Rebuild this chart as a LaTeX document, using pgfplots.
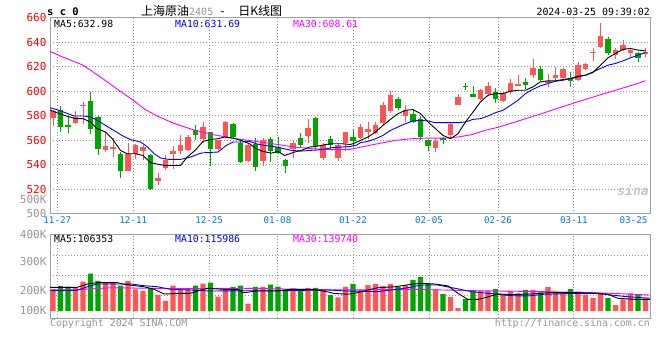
\documentclass[border=0pt]{standalone}
\usepackage{pgfplots}
\pgfplotsset{compat=1.18}
\usepackage{pgfplotstable}
\usepackage{fontspec}
\setmainfont{DejaVu Sans Mono}
\newfontfamily\cjk{Noto Sans CJK SC}
\definecolor{cred}{RGB}{255,85,85}
\definecolor{cgreen}{RGB}{0,166,0}
\definecolor{gridc}{RGB}{150,150,150}
\definecolor{framec}{RGB}{160,160,160}
\definecolor{datec}{RGB}{0,120,210}
\definecolor{greytxt}{RGB}{150,150,150}
\definecolor{mablue}{RGB}{0,0,255}
\definecolor{mamag}{RGB}{255,0,255}

% up (red) candles: index, open, high, low, close, volume (K)
\pgfplotstableread{
i o h l c v
-1 578 585 572 584 167
2 574 584 573.5 579 179
3 588 591 573 589 226
6 552 567 550 555 218
7 553.5 562 546 554 218
9 535 558 534.5 549 233
10 549 557 545 556 167
11 551 556 543.5 554.5 156
13 526.5 533.5 523.5 529.5 123
14 537 547.5 536 543.5 79
15 549 555 536.5 551.5 195
16 551.5 564.5 549 555.7 177
17 552 564 551.5 563 167
19 561 575 558 571 210
21 552.5 560.5 552 559.8 110
22 563 576 562 575 175
25 543 557 542.5 556 56
27 543 562 539 560 185
31 552.5 559 545.5 558 175
33 563.5 577 558 570 179
35 545.5 558 543.5 556 167
37 545.5 557 543 556 105
38 558 567 551 566.5 186
40 562 573 561 571 162
41 567 575 561 569.5 200
42 566 575 565 572 208
43 574 591 572 588.5 193
44 584 600 582 597 208
46 580 588.5 575 584.5 200
50 553.5 561 550 559.5 167
52 564 574 561.5 573 108
53 589 597.5 589 595.5 23
56 593.5 602 593 601 156
57 597.5 607.5 596.5 604 156
59 592 599 591.5 598.5 126
60 599 610 598 606.5 154
61 604.5 613.5 604 605.7 136
63 613.5 626 611 619 162
65 607 614 603.5 608.5 185
66 610.5 620 609 613 144
67 610.5 619 610 618 144
69 609 623.5 608 621.3 149
70 618 623 617.5 622 126
71 631.5 635 625 632 102
72 636 656 635.5 645 136
74 630 635.5 626 633.5 46
75 633.5 642 632.5 638 90
76 631.5 635 628 633.5 136
78 631 635.5 628 632 98
}\up

% down (green) candles
\pgfplotstableread{
i o h l c v
0 585 588 567 571 193
1 572.5 580 566 571.5 187
4 592 599.5 565 569.5 287
5 579 580 548 553 233
8 549 550 529 535 195
12 547.5 549 519.5 520 175
18 568 572 560 564 195
20 566.5 567 539 553 218
23 573 574 561 562.6 185
24 558 561 541 542 195
26 557 562 534.5 538 185
28 561 563 542.5 551.5 203
29 554.5 562.5 549 549.7 187
30 544 545 533.5 539 167
32 562 566 553.5 556 167
34 578 579 552.5 555 179
36 561 563.5 553 556 123
39 562.5 569 554.5 559 208
45 594 595.5 585 586 187
47 581 585 574 575 239
48 577 580 560 562.5 262
49 560 561 551.5 555 213
51 561.5 563 557 561 131
54 604.5 607 601 604 92
55 598 604 595 595.5 154
58 599.5 603 590.5 593.5 169
62 607.5 611 602 605 162
64 618 621 608.5 609 144
68 611 616 603.5 608 169
73 643 644 630 631.5 100
77 631.5 632 623.5 627.5 123
}\down

\begin{document}
\begin{tikzpicture}
\path[use as bounding box] (0pt,0pt) rectangle (660pt,-360pt);

% ---------------- price panel ----------------
\begin{axis}[
  at={(50pt,-17.8pt)}, anchor=north west,
  scale only axis, width=600pt, height=195.8pt,
  xmin=-1.4, xmax=78.6, ymin=500, ymax=660,
  axis line style={framec, line width=1pt},
  major tick length=0pt,
  xtick={-0.43,9.7,19.82,28.93,39.0,49.13,58.33,68.45},
  xticklabels={11-27,12-11,12-25,01-08,01-22,02-05,02-26,03-11},
  extra x ticks={76.4}, extra x tick labels={03-25},
  extra x tick style={grid=none},
  xticklabel style={text=datec, font=\fontsize{9.2}{10}\selectfont},
  ytick={520,540,560,580,600,620,640,660},
  yticklabels={520,540,560,580,600,620,640,660},
  yticklabel style={text=red, font=\fontsize{11}{11}\selectfont},
  extra y ticks={500,511.5}, extra y tick labels={500,500K},
  extra y tick style={grid=none, yticklabel style={text=greytxt}},
  grid=major,
  major grid style={gridc, dash pattern=on 1pt off 2pt, line width=0.8pt},
  candle/.style={draw=none, mark=none, forget plot, error bars/.cd, y dir=both, y explicit, error mark=none},
]
% wicks
\addplot[candle, error bar style={draw=cred, line width=1pt}]
  table[x=i, y expr={(\thisrow{h}+\thisrow{l})/2}, y error expr={(\thisrow{h}-\thisrow{l})/2}] {\up};
\addplot[candle, error bar style={draw=cgreen, line width=1pt}]
  table[x=i, y expr={(\thisrow{h}+\thisrow{l})/2}, y error expr={(\thisrow{h}-\thisrow{l})/2}] {\down};
% bodies
\addplot[candle, error bar style={draw=cred, line width=5.8pt}]
  table[x=i, y expr={(\thisrow{o}+\thisrow{c})/2}, y error expr={max(abs(\thisrow{c}-\thisrow{o})/2,0.35)}] {\up};
\addplot[candle, error bar style={draw=cgreen, line width=5.8pt}]
  table[x=i, y expr={(\thisrow{o}+\thisrow{c})/2}, y error expr={max(abs(\thisrow{c}-\thisrow{o})/2,0.35)}] {\down};
% MA30
\addplot[mamag, line width=0.9pt] coordinates {
(-1.4,632.6)(0,628.7)(3,621.3)(5.3,611.7)(7.5,602)(9.7,592.6)(11.3,585)(12.8,580)(15,574)(17.7,568.5)
(20.4,564.5)(23,561.5)(25.7,559.3)(28.4,557)(31,554.5)(33.7,553)(35.7,552.3)(38.6,552.5)(40.1,554.4)
(42.3,557.1)(44.6,559.8)(46.8,561.2)(49,561.7)(51.2,561.7)(53,562.6)(54.8,564.5)(56.6,568)(58.5,570.8)
(61.2,576)(64.3,582)(67,587.5)(68.8,591)(71.4,596)(74.1,601)(76.8,606)(78,608.61)};
% MA10
\addplot[mablue, line width=0.9pt] coordinates {
(-1.4,586.5)(-0.2,584.4)(1.8,579.8)(3,579.8)(4,579)(4.9,576.2)(6,572.1)(7.1,568)(8.2,563.9)(9.35,560.4)
(10.7,558.5)(11.6,554.4)(12.5,548.9)(13.35,545.4)(14.45,544.3)(16,544.3)(17.35,546.2)(18.45,548.9)
(19,549.7)(21,550.3)(22.1,555.7)(23,558.5)(24.1,558.5)(25.2,559)(26.1,557.1)(27.2,555.7)(28.35,554.9)
(29.5,553.5)(30.8,551.6)(32.1,551.1)(33.2,551.6)(34.8,552.2)(36.1,553.8)(37.5,554.4)(38.6,554.9)
(39.5,556)(40,558)(41,559)(42,561.2)(43,563.9)(44,568)(45,570.8)(46,573.5)(47,575.7)(48,576.2)
(49,575.7)(50,574.3)(51,574.3)(52,574.3)(53,574.3)(54,574.9)(55,577)(56,577.6)(57,579.8)(58,582.5)
(59,584.4)(60,588.5)(61,592.6)(62,598.1)(63,601.6)(64,604.4)(65,606.3)(66,608.2)(67,609)(68,610.4)
(69,611.7)(70,613.1)(71,615.8)(72,618.6)(73,621.3)(74,622.7)(75,624.8)(76,627.3)(77,629.5)(78,631.69)};
% MA5
\addplot[black, line width=0.9pt] coordinates {
(-1.4,584.6)(0.47,580.3)(2,577.6)(3,577.6)(4,574.9)(4.9,569.4)(6,566.7)(6.9,561.2)(8,551.6)(8.9,548.9)
(10,548.9)(11,547.5)(12,541.6)(13.1,540.2)(14,539.3)(15,539.3)(16,539.3)(16.9,546.2)(18,552)(19,559)
(20,560.5)(21,561.2)(21.9,562.6)(23,561.7)(24.1,559.8)(25.2,557.1)(26.1,553)(27,550.8)(28.1,549.4)
(29,550.8)(29.9,547.5)(31.2,550.3)(32.1,551.6)(33.2,554.4)(34.1,554.9)(35.2,556.3)(36.1,557.1)
(37.5,557.1)(38.6,556.5)(39,557.1)(40,559.8)(41,562.6)(42,566.7)(43,572.1)(44,577)(45,581.7)(46,584.4)
(47,585)(48,581.7)(49,574.9)(50,569.4)(51,563.9)(52,561.2)(53,565.3)(54,574.9)(55,583)(56,591.3)
(57,596.7)(58,598.1)(59,598.1)(60,600)(61,600.8)(62,600.8)(63,603.6)(64,607.7)(65,608.5)(66,608.5)
(67,609.6)(68,610.4)(69,612.3)(70,613.1)(71,615.3)(72,621.3)(73,627.3)(74,630.9)(75,634.2)(76,635)
(77,633.6)(78,632.98)};
\end{axis}

% ---------------- volume panel ----------------
\begin{axis}[
  at={(50pt,-234pt)}, anchor=north west,
  scale only axis, width=600pt, height=84pt,
  xmin=-1.4, xmax=78.6, ymin=-53.9, ymax=592.9,
  axis line style={framec, line width=1pt},
  major tick length=0pt,
  xtick={-0.43,9.7,19.82,28.93,39.0,49.13,58.33,68.45},
  xticklabels={},
  ytick={7.7,161.7,385,592.9},
  yticklabels={100K,200K,300K,400K},
  yticklabel style={text=greytxt, font=\fontsize{11}{11}\selectfont},
  xmajorgrids=true, ymajorgrids=false,
  extra y ticks={123.2,277.2,425.8}, extra y tick labels={},
  extra y tick style={ymajorgrids=true},
  major grid style={gridc, dash pattern=on 1pt off 2pt, line width=0.8pt},
]
\addplot[ybar, bar width=5.4pt, bar shift=0pt, fill=cred, draw=none] table[x=i, y=v] {\up};
\addplot[ybar, bar width=5.4pt, bar shift=0pt, fill=cgreen, draw=none] table[x=i, y=v] {\down};
\addplot[mamag, line width=0.9pt] coordinates {
(-1.4,162)(2.2,164)(6.7,179)(15.6,172)(24.4,175)(37.8,162)(46.8,167)(55.7,156)(64.5,149)(71.2,141)(75.6,131)(78.6,123)};
\addplot[mablue, line width=0.9pt] coordinates {
(-1.4,156)(2.2,159)(3.6,187)(4.9,208)(9.35,208)(11.1,195)(12.9,187)(14.7,167)(17.3,162)(20,154)(24.4,156)
(28.9,156)(35.5,162)(38.2,154)(42.3,149)(45.9,175)(48.1,200)(50.3,200)(52.6,175)(54.8,149)(57,136)
(60.1,118)(62.3,116)(64.5,129)(69,136)(71.6,136)(73.4,123)(75.6,110)(78.6,98)};
\addplot[black, line width=0.9pt] coordinates {
(-1.4,182)(2.2,182)(3.6,208)(4.9,218)(7.6,218)(8.5,206)(11.1,187)(12.5,167)(13.8,131)(16,136)(17.3,136)
(18.7,162)(19.6,175)(21.8,167)(23.6,167)(24.4,141)(26.2,154)(28.9,154)(30.7,167)(32.9,167)(34.2,162)
(35.5,149)(36.4,136)(38.2,129)(39.2,136)(41,162)(42.3,179)(44.6,187)(46.8,206)(48.1,213)(49.9,208)
(51.7,193)(53,136)(54.3,90)(55.7,90)(56.6,102)(58.3,131)(60.1,126)(62.8,131)(65,141)(69,141)(71.2,136)
(73,129)(74.3,98)(76.5,90)(78.6,90)};
\end{axis}

% ---------------- texts ----------------
\node[anchor=west, inner sep=0pt, font=\bfseries\fontsize{10.5}{11}\selectfont] at (47pt,-12pt) {s c 0};
\node[anchor=west, inner sep=0pt] at (141pt,-11pt) {\cjk\fontsize{12}{12}\selectfont 上海原油{\rmfamily\color{greytxt}\fontsize{10}{10}\selectfont 2405}\hspace{7pt}-\hspace{14pt}日K线图};
\node[anchor=east, inner sep=0pt, font=\fontsize{9.9}{10}\selectfont] at (650pt,-12pt) {2024-03-25 09:39:02};

\node[anchor=west, inner sep=0pt, font=\fontsize{9.8}{10}\selectfont] at (54pt,-24pt) {MA5:632.98};
\node[anchor=west, inner sep=0pt, font=\fontsize{9.8}{10}\selectfont, text=mablue] at (175pt,-24pt) {MA10:631.69};
\node[anchor=west, inner sep=0pt, font=\fontsize{9.8}{10}\selectfont, text=mamag] at (293pt,-24pt) {MA30:608.61};

\node[anchor=west, inner sep=0pt, font=\fontsize{9.8}{10}\selectfont] at (54pt,-238.5pt) {MA5:106353};
\node[anchor=west, inner sep=0pt, font=\fontsize{9.8}{10}\selectfont, text=mablue] at (175pt,-238.5pt) {MA10:115986};
\node[anchor=west, inner sep=0pt, font=\fontsize{9.8}{10}\selectfont, text=mamag] at (293pt,-238.5pt) {MA30:139740};

\node[anchor=west, inner sep=0pt, font=\fontsize{9.9}{10}\selectfont, text=greytxt] at (50pt,-323.5pt) {Copyright 2024 SINA.COM};
\node[anchor=east, inner sep=0pt, font=\fontsize{9.9}{10}\selectfont, text=greytxt] at (650pt,-323.5pt) {http://finance.sina.com.cn};

\node[inner sep=0pt, font=\bfseries\itshape\fontsize{13}{13}\selectfont, text=gray!45] at (633pt,-190pt) {sina};
\end{tikzpicture}
\end{document}
